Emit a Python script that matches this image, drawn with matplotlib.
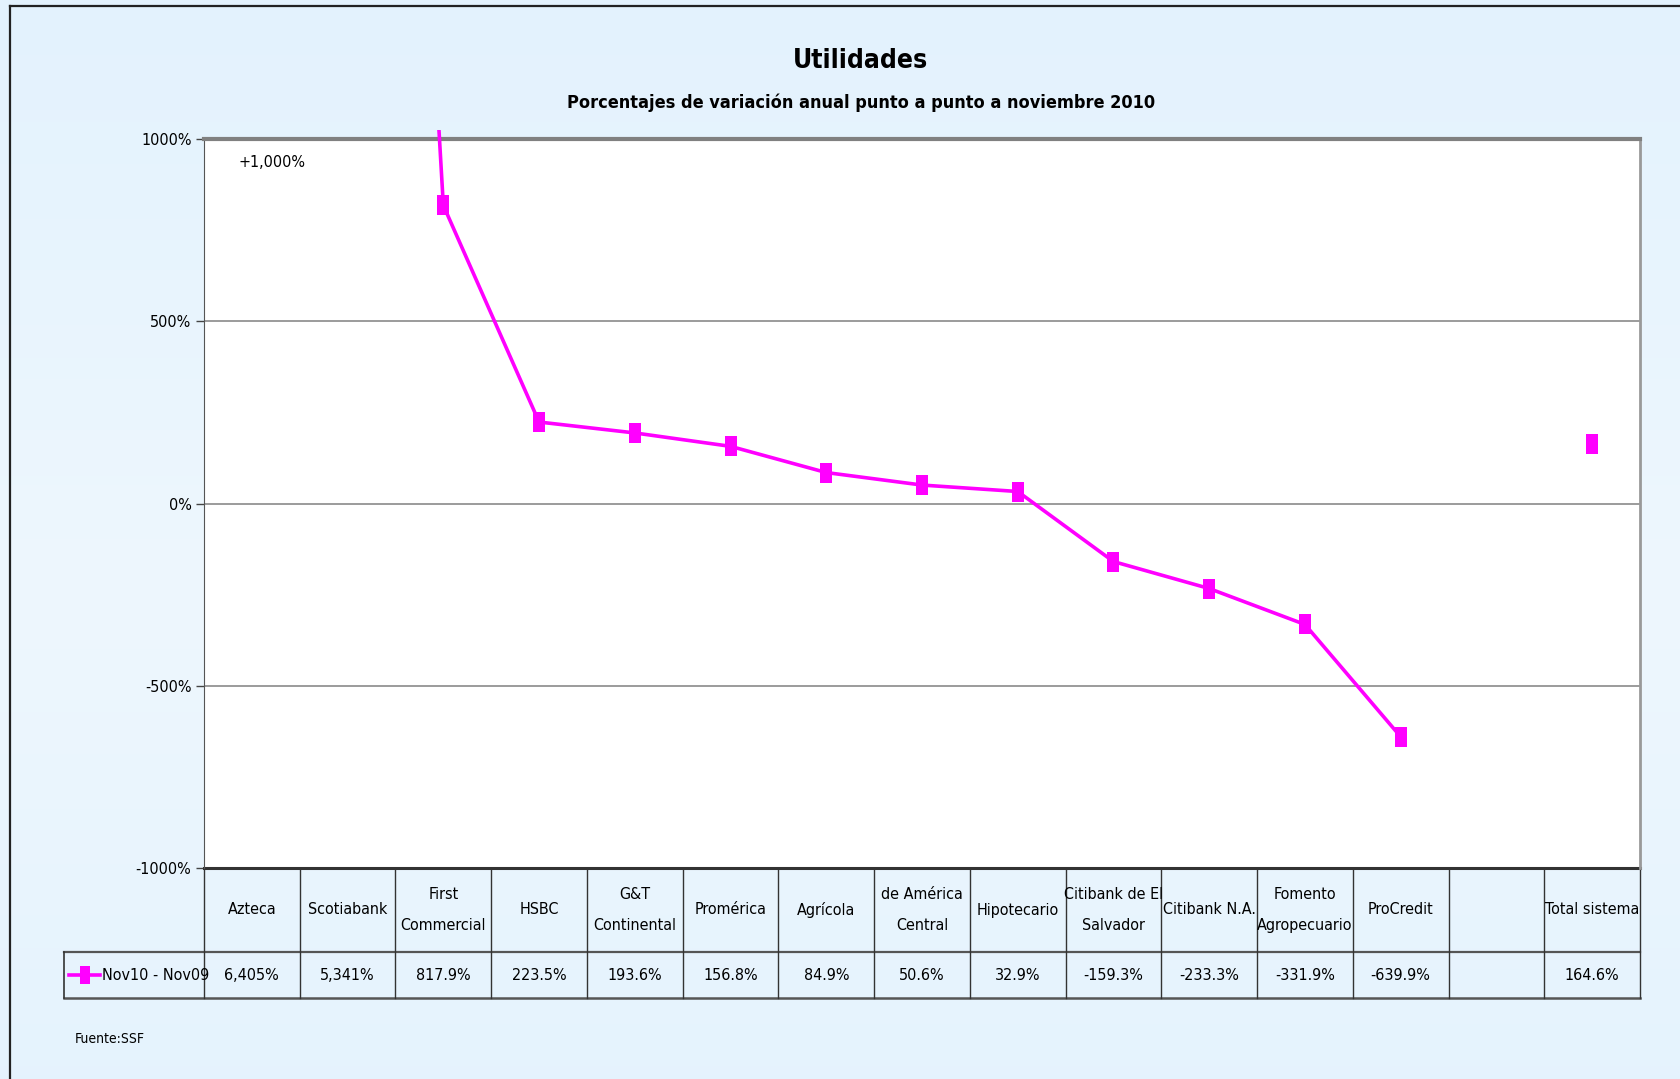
import numpy as np
import matplotlib
matplotlib.use("Agg")
import matplotlib.pyplot as plt
from matplotlib.lines import Line2D
from matplotlib.patches import Rectangle
import matplotlib.transforms as mtransforms

plt.rcParams['font.family'] = ['DejaVu Sans']
plt.rcParams['font.stretch'] = 'condensed'

# ---------------- data ----------------
categories = ["Azteca", "Scotiabank", "First\nCommercial", "HSBC", "G&T\nContinental",
              "Promérica", "Agrícola", "de América\nCentral", "Hipotecario",
              "Citibank de El\nSalvador", "Citibank N.A.", "Fomento\nAgropecuario",
              "ProCredit", "", "Total sistema"]
values = [6405.0, 5341.0, 817.9, 223.5, 193.6, 156.8, 84.9, 50.6, 32.9,
          -159.3, -233.3, -331.9, -639.9, np.nan, 164.6]
series_name = "Nov10 - Nov09"
yticks = [1000, 500, 0, -500, -1000]
ytick_labels = ["1000%", "500%", "0%", "-500%", "-1000%"]
title = "Utilidades"
subtitle = "Porcentajes de variación anual punto a punto a noviembre 2010"
note = "+1,000%"
source = "Fuente:SSF"

W, H = 1681, 1079
fig = plt.figure(figsize=(W / 100, H / 100), dpi=100)

# gradient background
bg = fig.add_axes([0, 0, 1, 1], zorder=-10)
top = np.array([227, 242, 253]) / 255
mid = np.array([238, 247, 254]) / 255
t = np.linspace(0, 1, 256)
w = 1 - np.abs(t - 0.55) / 0.55
w = np.clip(w, 0, 1)
grad = top[None, :] * (1 - w[:, None]) + mid[None, :] * w[:, None]
bg.imshow(grad[:, None, :], aspect='auto', extent=[0, 1, 0, 1])
bg.set_axis_off()

# outer border (left & top)
fig.add_artist(Line2D([10 / W, 10 / W], [0, 1 - 6 / H], transform=fig.transFigure, color='#222222', lw=1.6))
fig.add_artist(Line2D([10 / W, 1], [1 - 6 / H, 1 - 6 / H], transform=fig.transFigure, color='#222222', lw=1.6))

left, right, top_px, bot_px = 204, 1640, 139, 868
ax = fig.add_axes([left / W, 1 - bot_px / H, (right - left) / W, (bot_px - top_px) / H])
ax.set_facecolor('white')

x = np.arange(len(categories))
ax.set_xlim(-0.5, len(categories) - 0.5)
ax.set_ylim(-1000, 1000)

for yv in [500, 0, -500]:
    ax.axhline(yv, color='#808080', lw=1.1, zorder=1)

marker_verts = [(-0.55, -1), (0.55, -1), (0.55, 1), (-0.55, 1), (-0.55, -1)]
line, = ax.plot(x, values, color='#FF00FF', lw=2.6, marker=marker_verts, markersize=15,
                markeredgewidth=0, zorder=3)
clip = Rectangle((0, -0.02), 1, 1.033, transform=ax.transAxes, facecolor='none', edgecolor='none')
ax.add_patch(clip)
line.set_clip_path(clip)

fs = 11.5
ax.set_yticks(yticks)
ax.set_yticklabels(ytick_labels, fontsize=fs)
ax.set_xticks([])
ax.tick_params(axis='y', length=6, width=1, color='#444444', pad=3)
ax.spines['left'].set_color('#555555')
ax.spines['top'].set_color('#808080')
ax.spines['top'].set_linewidth(3)
ax.spines['right'].set_color('#999999')
ax.spines['right'].set_linewidth(2)
ax.spines['bottom'].set_visible(False)

ax.text(0.024, 0.968, note, transform=ax.transAxes, fontsize=fs, ha='left', va='center')

# ---------------- data table ----------------
bt = mtransforms.blended_transform_factory(ax.transData, ax.transAxes)
h_row = (952 - 868) / (868 - 139)
v_row = (998 - 868) / (868 - 139)
leg_left = -0.5 - (left - 64) / ((right - left) / len(categories))
xr = len(categories) - 0.5
lc = '#333333'

def hline(x0, x1, y, lw=1.0, color=lc):
    ax.add_line(Line2D([x0, x1], [y, y], transform=bt, color=color, lw=lw, clip_on=False))

def vline(xx, y0, y1, lw=1.0, color=lc):
    ax.add_line(Line2D([xx, xx], [y0, y1], transform=bt, color=color, lw=lw, clip_on=False))

hline(-0.5, xr, 0, lw=2.2, color='#333333')
hline(leg_left, xr, -h_row, lw=1.6, color='#555555')
hline(leg_left, xr, -v_row, lw=1.8, color='#555555')
for i in range(len(categories) + 1):
    vline(i - 0.5, 0, -v_row, lw=1.0)
vline(leg_left, -h_row, -v_row, lw=1.2)

for i, (c, v) in enumerate(zip(categories, values)):
    ax.text(i, -h_row / 2, c, transform=bt, ha='center', va='center', fontsize=fs,
            linespacing=2.3, clip_on=False)
    if np.isnan(v):
        s = ""
    elif abs(v) >= 1000:
        s = f"{v:,.0f}%"
    else:
        s = f"{v:.1f}%"
    ax.text(i, -(h_row + v_row) / 2, s, transform=bt, ha='center', va='center',
            fontsize=fs, clip_on=False)

ym = -(h_row + v_row) / 2
ax.add_line(Line2D([leg_left + 0.05, leg_left + 0.38], [ym, ym], transform=bt, color='#FF00FF',
                   lw=2.6, clip_on=False))
ax.add_line(Line2D([leg_left + 0.215], [ym], transform=bt, color='#FF00FF', marker=marker_verts,
                   markersize=13, markeredgewidth=0, lw=0, clip_on=False))
ax.text(leg_left + 0.4, ym, series_name, transform=bt, ha='left', va='center', fontsize=fs,
        clip_on=False)

fig.text(861 / W, 1 - 61 / H, title, ha='center', va='center', fontsize=19, fontweight='bold')
fig.text(861 / W, 1 - 103 / H, subtitle, ha='center', va='center', fontsize=13, fontweight='bold')
fig.text(75 / W, 1 - 1039 / H, source, ha='left', va='center', fontsize=10)

fig.savefig("out.png", dpi=100)
